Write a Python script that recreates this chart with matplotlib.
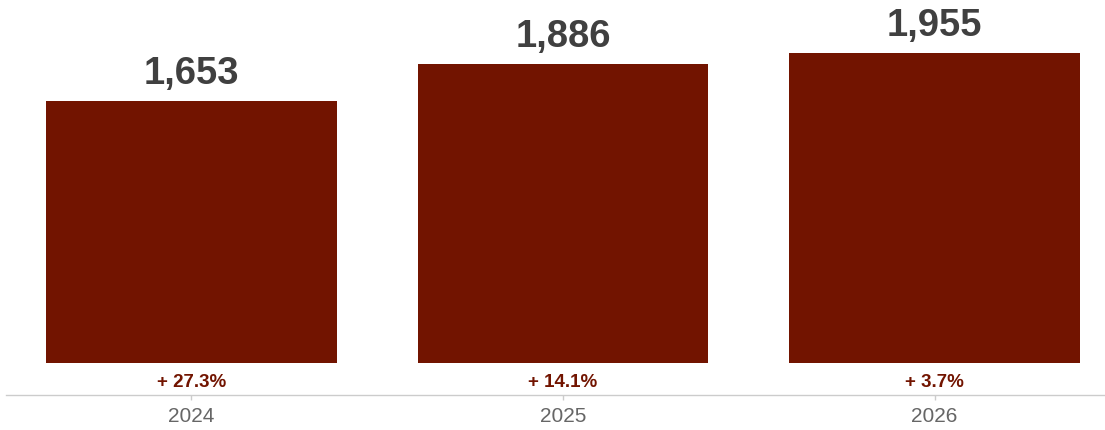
import matplotlib.pyplot as plt

years = ["2024", "2025", "2026"]
values = [1653, 1886, 1955]
growth = ["+ 27.3%", "+ 14.1%", "+ 3.7%"]

BAR_COLOR = "#721400"
VALUE_COLOR = "#404040"
YEAR_COLOR = "#666666"

plt.rcParams['font.family'] = ['Liberation Sans', 'DejaVu Sans']

fig = plt.figure(figsize=(11.05, 4.30), dpi=100)
# axes bottom sits at the bar baseline (y=363px), the visible axis line is pushed outward
ax = fig.add_axes([6 / 1105, (430 - 363) / 430, 1098 / 1105, 363 / 430])

x = list(range(len(years)))
ax.bar(x, values, width=0.783, color=BAR_COLOR, zorder=2)

ax.set_xlim(-0.499, 2.456)
ax.set_ylim(0, 2290)

for i, v in enumerate(values):
    ax.annotate(f"{v:,}", xy=(i, v), xytext=(0, 12), textcoords="offset points",
                ha="center", va="baseline", fontsize=27.5, fontweight="bold",
                color=VALUE_COLOR)
    ax.annotate(growth[i], xy=(i, 0), xytext=(0, -14), textcoords="offset points",
                ha="center", va="center", fontsize=13.5, fontweight="bold",
                color=BAR_COLOR)

for s in ["top", "left", "right"]:
    ax.spines[s].set_visible(False)
ax.spines["bottom"].set_position(("outward", 23))
ax.spines["bottom"].set_color("#cccccc")
ax.spines["bottom"].set_linewidth(1.0)

ax.set_yticks([])
ax.set_xticks(x)
ax.set_xticklabels(years)
ax.tick_params(axis="x", length=3.6, width=1.0, color="#cccccc", pad=5,
               labelsize=15, labelcolor=YEAR_COLOR)

fig.savefig("out.png", dpi=100, facecolor="white")
